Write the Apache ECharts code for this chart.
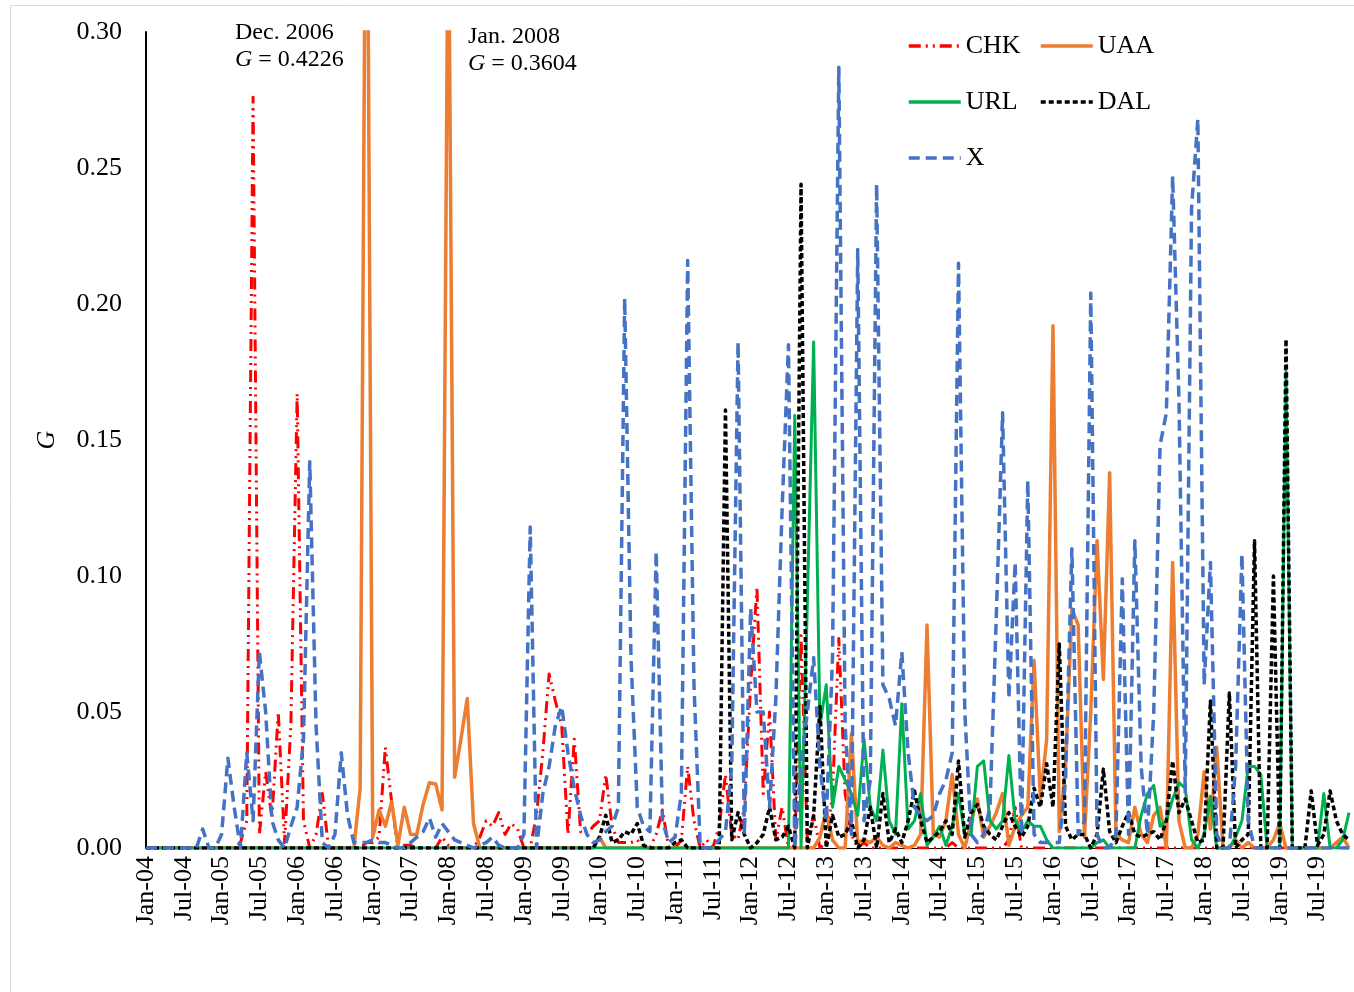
<!DOCTYPE html>
<html>
<head>
<meta charset="utf-8">
<script src="https://cdn.jsdelivr.net/npm/echarts/dist/echarts.min.js"></script>
<style>
  html, body { margin: 0; padding: 0; background: #fff; }
  #chart { width: 1354px; height: 992px; }
</style>
</head>
<body>
<div id="chart"></div>
<script>
// ---- categories (monthly, Jan-04 .. Dec-19) ----
const yearLabels = ['04','05','06','07','08','09','10','11','12','13','14','15','16','17','18','19'];
const monthNames = ['Jan','Feb','Mar','Apr','May','Jun','Jul','Aug','Sep','Oct','Nov','Dec'];
const categories = [];
yearLabels.forEach(y => monthNames.forEach(m => categories.push(m + '-' + y)));

// ---- series values (G) ----
const CHK = [
  0,0,0,0,0,0,0,0,0,0,0,0,
  0,0,0,0.002,0.01,0.276,0.005,0.028,0.011,0.05,0.002,0.045,
  0.167,0.01,0,0.005,0.02,0,0,0,0,0,0,0.002,
  0.002,0.004,0.037,0.017,0,0.001,0.001,0,0,0,0,0.004,
  0.001,0,0,0,0,0.004,0.01,0.008,0.013,0.005,0.009,0.007,
  0,0,0.012,0.035,0.064,0.054,0.045,0.005,0.04,0.006,0.005,0.008,
  0.01,0.027,0.008,0.002,0.002,0.002,0.003,0,0,0.005,0.014,0,
  0,0.003,0.03,0.01,0,0.003,0,0.008,0.027,0.005,0.003,0.015,
  0.06,0.096,0.02,0.05,0.003,0.015,0,0,0.078,0.003,0.012,0,
  0.002,0.02,0.077,0.02,0.005,0,0.002,0,0,0,0,0,
  0,0,0,0,0,0,0,0,0.002,0,0,0,
  0,0,0,0,0,0.003,0.015,0,0,0,0,0,
  0,0,0,0,0,0,0,0,0,0,0,0,
  0,0,0,0,0,0,0,0,0,0,0,0,
  0,0,0,0,0,0,0,0,0,0,0,0,
  0,0,0,0,0,0,0,0,0,0,0,0
];
const UAA = [
  0,0,0,0,0,0,0,0,0,0,0,0,
  0,0,0,0,0,0,0,0,0,0,0,0,
  0,0,0,0,0,0,0,0,0,0,0.022,0.4226,
  0.004,0.014,0.008,0.017,0.001,0.015,0.005,0.005,0.016,0.024,0.0235,0.014,
  0.3604,0.026,0.04,0.055,0.009,0,0,0,0,0,0,0,
  0,0,0,0,0,0,0,0,0,0,0,0,
  0.004,0,0,0,0,0,0,0,0,0,0,0,
  0,0,0,0,0,0,0,0,0,0,0,0,
  0,0,0,0,0,0,0,0,0,0,0,0.004,
  0.014,0.003,0,0,0.042,0.002,0.003,0.002,0.004,0.001,0,0.002,
  0.001,0,0.001,0.005,0.082,0.005,0.004,0.01,0.027,0.005,0,0.01,
  0.018,0.004,0.008,0.013,0.02,0.001,0.008,0.012,0.015,0.069,0.018,0.04,
  0.192,0.006,0.03,0.088,0.082,0.004,0.05,0.113,0.062,0.138,0.005,0.003,
  0.002,0.015,0.005,0.002,0.012,0.015,0,0.105,0.01,0,0,0.005,
  0.028,0.007,0.037,0,0,0.003,0,0.002,0,0,0,0.003,
  0.009,0,0,0,0,0,0,0,0,0.002,0.004,0
];
const URL = [
  0,0,0,0,0,0,0,0,0,0,0,0,
  0,0,0,0,0,0,0,0,0,0,0,0,
  0,0,0,0,0,0,0,0,0,0,0,0,
  0,0,0,0,0,0,0,0,0,0,0,0,
  0,0,0,0,0,0,0,0,0,0,0,0,
  0,0,0,0,0,0,0,0,0,0,0,0,
  0,0,0,0,0,0,0,0,0,0,0,0,
  0,0,0,0,0,0,0,0,0,0,0,0,
  0,0,0,0,0,0,0,0.159,0,0.09,0.186,0.045,
  0.06,0.015,0.03,0.025,0.02,0.012,0.04,0.015,0.01,0.036,0.01,0.005,
  0.053,0.007,0.01,0.02,0.001,0.004,0.008,0.001,0.008,0.02,0.005,0.005,
  0.03,0.032,0.01,0.007,0.01,0.034,0.01,0.006,0.01,0.008,0.008,0.003,
  0,0,0,0,0,0,0,0.002,0.003,0,0,0,
  0,0,0.012,0.02,0.023,0.008,0.01,0.018,0.024,0.022,0.003,0,
  0.005,0.019,0,0,0,0.004,0.01,0.03,0.03,0.027,0,0,
  0,0.175,0,0,0,0,0,0.02,0,0,0.003,0.013
];
const DAL = [
  0,0,0,0,0,0,0,0,0,0,0,0,
  0,0,0,0,0,0,0,0,0,0,0,0,
  0,0,0,0,0,0,0,0,0,0,0,0,
  0,0,0,0,0,0,0,0,0,0,0,0,
  0,0,0,0,0,0,0,0,0,0,0,0,
  0,0,0,0,0,0,0,0,0,0,0,0,
  0.004,0.012,0.002,0.003,0.006,0.005,0.009,0.001,0,0,0,0,
  0.002,0.003,0,0,0,0,0,0,0.161,0.003,0.013,0.005,
  0,0.002,0.005,0.015,0.003,0.004,0.008,0,0.244,0,0.012,0.052,
  0,0.012,0.004,0.005,0.01,0,0.003,0.015,0,0.02,0.002,0.007,
  0.002,0.01,0.021,0.01,0.002,0.004,0.006,0.01,0.005,0.032,0.004,0.013,
  0.016,0.008,0.005,0.003,0.008,0.013,0.008,0.004,0.008,0.022,0.015,0.031,
  0.015,0.075,0.008,0.003,0.005,0.005,0,0.005,0.029,0.006,0.002,0.008,
  0.013,0.005,0.004,0.005,0.006,0.003,0.01,0.032,0.013,0.018,0.01,0.002,
  0.003,0.054,0,0,0.057,0,0.003,0.005,0.113,0,0,0.1,
  0,0.187,0,0,0,0.021,0.001,0.005,0.021,0.01,0.005,0.003
];
const X = [
  0,0,0,0,0,0,0,0,0,0.007,0,0,
  0.005,0.033,0.015,0,0.035,0.01,0.072,0.05,0.01,0.003,0,0.008,
  0.015,0.04,0.142,0.045,0.002,0,0.005,0.035,0.012,0.002,0.002,0.002,
  0.003,0.002,0.002,0.001,0,0,0.002,0.004,0.006,0.011,0.004,0.009,
  0.006,0.003,0.002,0.001,0,0.001,0.002,0.004,0.001,0,0,0,
  0.005,0.118,0,0.02,0.03,0.045,0.052,0.035,0.022,0.012,0.005,0.002,
  0.003,0.006,0.008,0.015,0.202,0.07,0.015,0.008,0.006,0.109,0.01,0.002,
  0.004,0.02,0.216,0.06,0,0,0,0.003,0.006,0.03,0.186,0.005,
  0.088,0.05,0.05,0.015,0.055,0.125,0.185,0,0.03,0.05,0.07,0.03,
  0.01,0.07,0.287,0.045,0.005,0.22,0.01,0.025,0.244,0.06,0.055,0.045,
  0.072,0.035,0.015,0.012,0.01,0.012,0.02,0.025,0.035,0.215,0.05,0.005,
  0.002,0.005,0.015,0.085,0.16,0.055,0.105,0.005,0.135,0.005,0.002,0.002,
  0.002,0.002,0.025,0.11,0.005,0.01,0.204,0.005,0,0,0.005,0.099,
  0.005,0.113,0.03,0.005,0.05,0.148,0.16,0.247,0.165,0.02,0.235,0.268,
  0.06,0.105,0.005,0,0,0.03,0.108,0.01,0,0,0,0,
  0,0,0,0,0,0,0,0,0,0,0,0
];

// ---- axis ticks ----
const yMin = 0, yMax = 0.30, yStep = 0.05;

const FONT = '"Liberation Serif", "Times New Roman", serif';

const seriesDefs = [
  { name: 'CHK', data: CHK, color: '#FF0000', width: 3, type: [12, 5, 2, 5, 2, 5] },
  { name: 'UAA', data: UAA, color: '#ED7D31', width: 3.5, type: 'solid' },
  { name: 'URL', data: URL, color: '#00B050', width: 3, type: 'solid' },
  { name: 'DAL', data: DAL, color: '#000000', width: 3.5, type: [5, 3] },
  { name: 'X',   data: X,   color: '#4472C4', width: 3.5, type: [11, 6] }
];

const legendPos = {
  CHK: { left: 902, top: 28 },
  UAA: { left: 1034, top: 28 },
  URL: { left: 902, top: 84 },
  DAL: { left: 1034, top: 84 },
  X:   { left: 902, top: 140 }
};

const chart = echarts.init(document.getElementById('chart'), null, { renderer: 'canvas' });

const option = {
  backgroundColor: '#ffffff',
  animation: false,
  grid: { left: 146, right: 5, top: 32, bottom: 144, containLabel: false },
  legend: seriesDefs.map(s => ({
    data: [s.name],
    left: legendPos[s.name].left,
    top: legendPos[s.name].top,
    itemWidth: 52,
    itemHeight: 14,
    itemGap: 0,
    itemStyle: { opacity: 0 },
    lineStyle: { width: 3.5 },
    textStyle: { fontFamily: FONT, fontSize: 26, color: '#000' },
    selectedMode: false
  })),
  xAxis: {
    type: 'category',
    data: categories,
    boundaryGap: false,
    axisLine: { show: true, lineStyle: { color: '#000', width: 1 } },
    axisTick: { show: false },
    axisLabel: {
      interval: 5,
      rotate: 90,
      margin: 8,
      fontFamily: FONT,
      fontSize: 26,
      color: '#000'
    },
    splitLine: { show: false }
  },
  yAxis: {
    type: 'value',
    min: yMin,
    max: yMax,
    interval: yStep,
    name: 'G',
    nameLocation: 'middle',
    nameGap: 86,
    nameRotate: 90,
    nameTextStyle: { fontFamily: FONT, fontSize: 26, fontStyle: 'italic', color: '#000' },
    axisLine: { show: true, lineStyle: { color: '#000', width: 2 } },
    axisTick: { show: false },
    axisLabel: {
      margin: 24,
      fontFamily: FONT,
      fontSize: 26,
      color: '#000',
      formatter: v => v.toFixed(2)
    },
    splitLine: { show: false }
  },
  series: seriesDefs.map(s => ({
    name: s.name,
    type: 'line',
    data: s.data,
    symbol: 'none',
    showSymbol: false,
    smooth: false,
    clip: true,
    color: s.color,
    lineStyle: { color: s.color, width: s.width, type: s.type, cap: 'butt', join: 'round' }
  })),
  graphic: [
    {
      type: 'rect',
      silent: true,
      shape: { x: 10.5, y: 5.5, width: 1400, height: 1100 },
      style: { fill: 'none', stroke: '#d9d9d9', lineWidth: 1 }
    },
    {
      type: 'text',
      left: 235, top: 21,
      style: { text: 'Dec. 2006', fontFamily: FONT, fontSize: 24, fill: '#000' }
    },
    {
      type: 'text',
      left: 235, top: 48,
      style: {
        text: '{i|G} = 0.4226', fontFamily: FONT, fontSize: 24, fill: '#000',
        rich: { i: { fontFamily: FONT, fontSize: 24, fontStyle: 'italic', fill: '#000' } }
      }
    },
    {
      type: 'text',
      left: 468, top: 25,
      style: { text: 'Jan. 2008', fontFamily: FONT, fontSize: 24, fill: '#000' }
    },
    {
      type: 'text',
      left: 468, top: 52,
      style: {
        text: '{i|G} = 0.3604', fontFamily: FONT, fontSize: 24, fill: '#000',
        rich: { i: { fontFamily: FONT, fontSize: 24, fontStyle: 'italic', fill: '#000' } }
      }
    }
  ]
};

chart.setOption(option);
</script>
</body>
</html>
